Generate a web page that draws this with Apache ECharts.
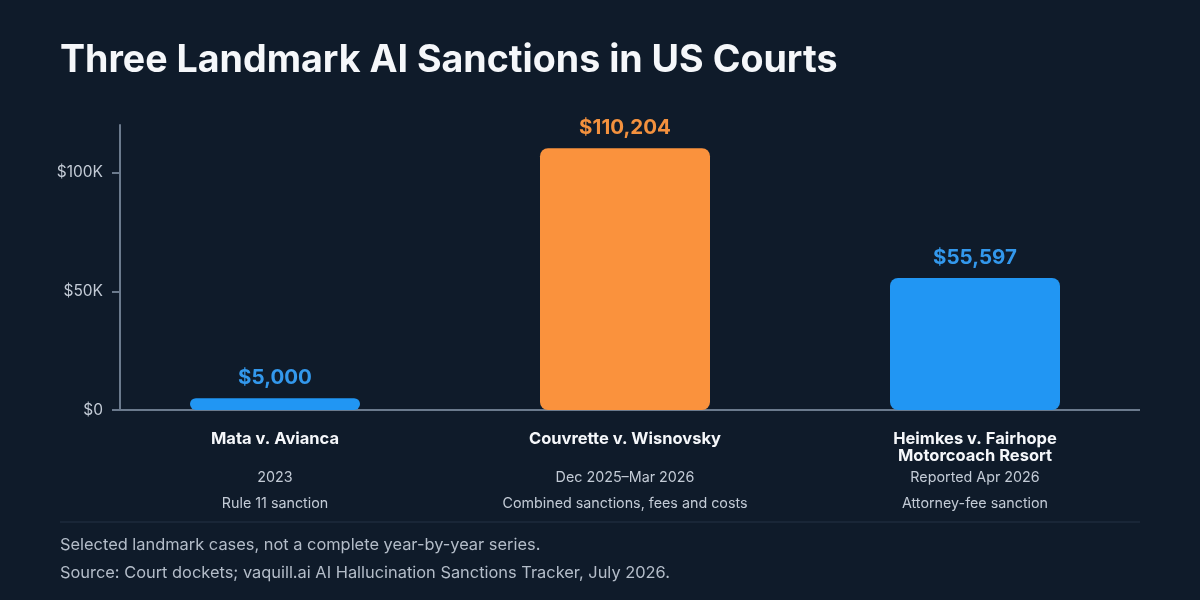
<!DOCTYPE html>
<html>
<head>
<meta charset="utf-8">
<script src="https://cdn.jsdelivr.net/npm/echarts@6/dist/echarts.min.js"></script>
<style>
html,body{margin:0;padding:0;background:#0f1b2a;}
#chart{width:1200px;height:600px;}
</style>
</head>
<body>
<div id="chart"></div>
<script>
const caseNames = ['Mata v. Avianca', 'Couvrette v. Wisnovsky', 'Heimkes v. Fairhope\nMotorcoach Resort'];
const caseDates = ['2023', 'Dec 2025\u2013Mar 2026', 'Reported Apr 2026'];
const caseNotes = ['Rule 11 sanction', 'Combined sanctions, fees and costs', 'Attorney-fee sanction'];
const sanctionValues = [5000, 110204, 55597];
const barColors = ['#2196f3', '#fa923d', '#2196f3'];
const labelColors = ['#3398ec', '#f3913e', '#3398ec'];
const yTicks = [0, 50000, 100000];

const FONT = 'Inter, "Noto Sans", sans-serif';
const chart = echarts.init(document.getElementById('chart'));

function catLabel(i) {
  const lines = caseNames[i].split('\n');
  if (lines.length < 2) lines.push(' ');
  return lines.map(l => '{n|' + l + '}').join('\n') + '\n{d|' + caseDates[i] + '}\n{d|' + caseNotes[i] + '}';
}

chart.setOption({
  backgroundColor: '#0f1b2a',
  title: {
    text: 'Three Landmark AI Sanctions in US Courts',
    left: 55, top: 37,
    textStyle: { color: '#f5f7fa', fontSize: 37.6, fontWeight: 'bold', fontFamily: FONT }
  },
  grid: { left: 100, right: 50, top: 125, bottom: 190 },
  xAxis: {
    type: 'category',
    data: caseNames.map((_, i) => i),
    axisLine: { show: false },
    axisTick: { show: false },
    axisLabel: {
      margin: 21,
      interval: 0,
      formatter: (v, i) => catLabel(i),
      rich: {
        n: { color: '#f5f7fa', fontSize: 16.5, fontWeight: 'bold', fontFamily: FONT, lineHeight: 17 },
        d: { color: '#c3cbd6', fontSize: 14.3, fontFamily: FONT, lineHeight: 25.5 }
      }
    }
  },
  yAxis: {
    type: 'value',
    min: 0, max: 120000,
    offset: -20,
    splitLine: { show: false },
    axisLine: { show: true, lineStyle: { color: '#6b7a8d', width: 2 } },
    axisTick: { show: true, length: 8, lineStyle: { color: '#6b7a8d', width: 2 }, customValues: yTicks },
    axisLabel: {
      color: '#c3cbd6', fontSize: 15.5, fontFamily: FONT, margin: 17,
      customValues: yTicks,
      formatter: v => v === 0 ? '$0' : '$' + (v / 1000) + 'K'
    }
  },
  series: [{
    type: 'bar',
    barWidth: 170,
    data: sanctionValues.map((v, i) => ({
      value: v,
      itemStyle: { color: barColors[i], borderRadius: 8 },
      label: { color: labelColors[i] }
    })),
    label: {
      show: true, position: 'top', distance: 10,
      fontSize: 20.5, fontWeight: 'bold', fontFamily: FONT,
      formatter: p => '$' + p.value.toLocaleString('en-US')
    }
  }],
  graphic: [
    { type: 'line', z: 0, shape: { x1: 120, y1: 410, x2: 1140, y2: 410 }, style: { stroke: '#6b7a8d', lineWidth: 2 } },
    { type: 'line', shape: { x1: 60, y1: 522, x2: 1140, y2: 522 }, style: { stroke: '#243244', lineWidth: 1 } },
    { type: 'text', left: 60, top: 537, style: { text: 'Selected landmark cases, not a complete year-by-year series.', fill: '#b4bdc9', fontSize: 16.4, fontFamily: FONT } },
    { type: 'text', left: 60, top: 565, style: { text: 'Source: Court dockets; vaquill.ai AI Hallucination Sanctions Tracker, July 2026.', fill: '#b4bdc9', fontSize: 16.4, fontFamily: FONT } }
  ]
});
</script>
</body>
</html>
